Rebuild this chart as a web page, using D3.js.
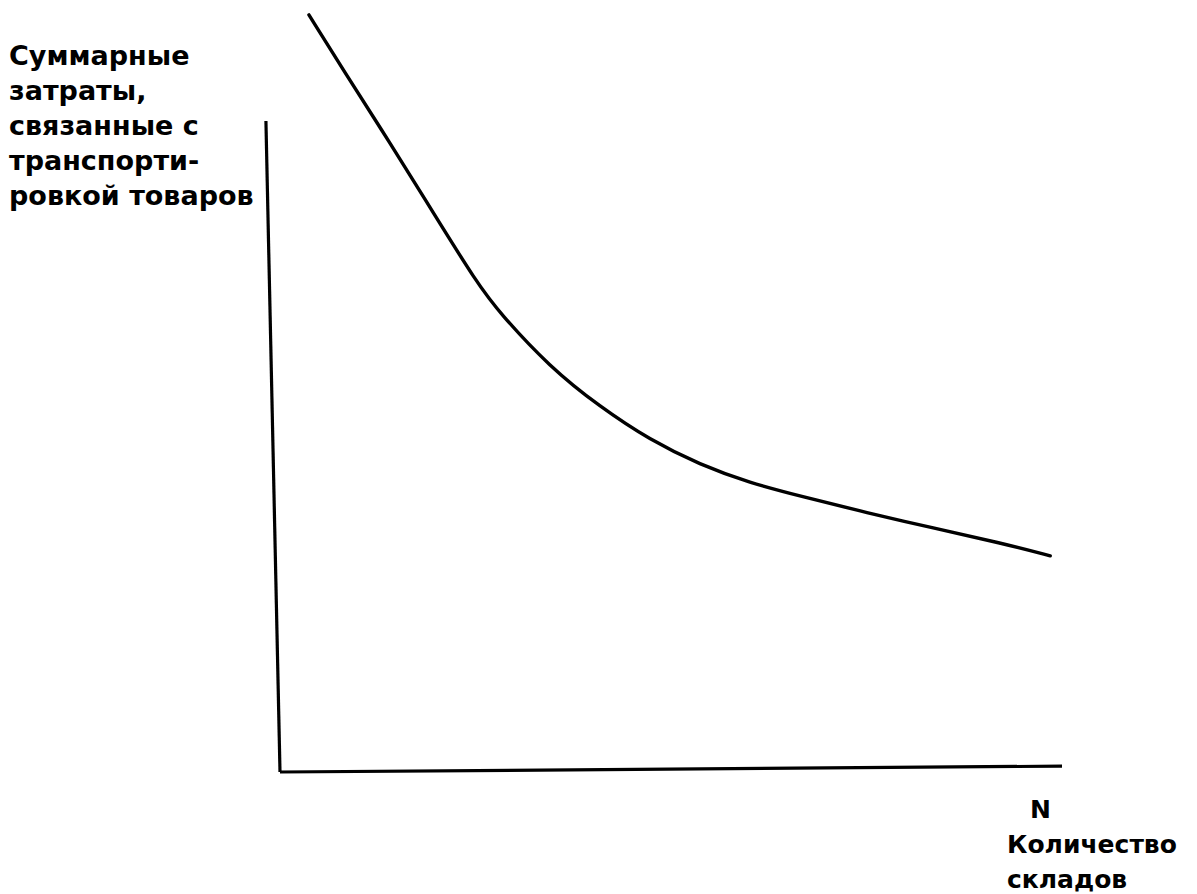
<!DOCTYPE html>
<html>
<head>
<meta charset="utf-8">
<script src="https://cdn.jsdelivr.net/npm/d3@7"></script>
<style>
  body { margin: 0; background: #fff; }
  text { font-family: "DejaVu Sans", "Liberation Sans", Arial, sans-serif; font-weight: bold; fill: #000; }
</style>
</head>
<body>
<div id="my_dataviz"></div>
<script>
// curve: total transport costs vs number of warehouses
var curveX = [3.7, 8.1, 14.1, 19.6, 25.2, 28.1, 34.5, 40.9, 47.3, 53.7, 60.1, 66.5, 75.1, 83.5, 92.1, 98.5];
var curveY = [116.3, 107.8, 96.6, 85.9, 75.1, 70.5, 62.2, 56.1, 51.0, 47.2, 44.4, 42.4, 39.8, 37.5, 35.2, 33.2];

// hand-drawn axes (slightly tilted in the scan)
var yAxisPts = [[-1.8, 100], [0, 0]];
var xAxisPts = [[0, 0], [100, 0.9]];

var yLabel = ["Суммарные", "затраты,", "связанные с", "транспорти-", "ровкой товаров"];
var xLabel = ["N", "Количество", "складов"];

var width = 1197, height = 894;

var svg = d3.select("#my_dataviz")
  .append("svg")
    .attr("width", width)
    .attr("height", height);

var x = d3.scaleLinear().domain([0, 100]).range([280, 1062]);
var y = d3.scaleLinear().domain([0, 100]).range([772, 121]);

var line = d3.line()
  .x(function(d) { return x(d[0]); })
  .y(function(d) { return y(d[1]); });

// axes
svg.append("path")
  .attr("d", line(yAxisPts))
  .attr("fill", "none")
  .attr("stroke", "#000")
  .attr("stroke-width", 3.2);

svg.append("path")
  .attr("d", line(xAxisPts))
  .attr("fill", "none")
  .attr("stroke", "#000")
  .attr("stroke-width", 3.2);

// curve
var data = curveX.map(function(v, i) { return [v, curveY[i]]; });
svg.append("path")
  .datum(data)
  .attr("d", line.curve(d3.curveBasis))
  .attr("fill", "none")
  .attr("stroke", "#000")
  .attr("stroke-width", 3.4)
  .attr("stroke-linecap", "round");

// y label
svg.append("g").selectAll("text")
  .data(yLabel)
  .enter()
  .append("text")
    .attr("x", 9)
    .attr("y", function(d, i) { return 65 + i * 35; })
    .style("font-size", "27px")
    .text(function(d) { return d; });

// x label
svg.append("g").selectAll("text")
  .data(xLabel)
  .enter()
  .append("text")
    .attr("x", function(d, i) { return i == 0 ? 1030 : 1007; })
    .attr("y", function(d, i) { return 818 + i * 35; })
    .style("font-size", "25px")
    .text(function(d) { return d; });
</script>
</body>
</html>
